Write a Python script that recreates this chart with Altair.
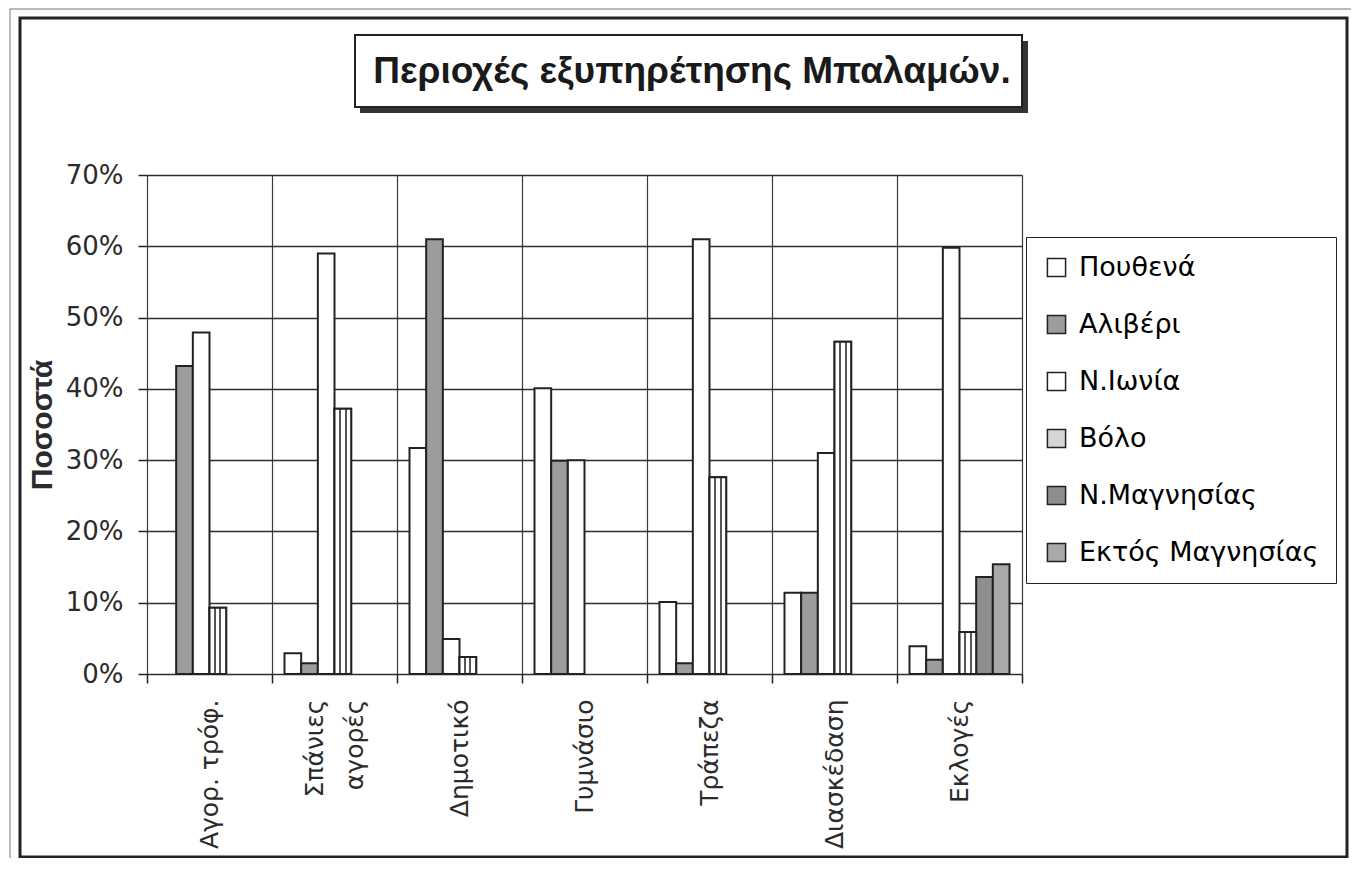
import altair as alt
import pandas as pd

# ---- data ----
categories = ["Αγορ. τρόφ.", "Σπάνιες αγορές", "Δημοτικό", "Γυμνάσιο",
              "Τράπεζα", "Διασκέδαση", "Εκλογές"]
series = ["Πουθενά", "Αλιβέρι", "Ν.Ιωνία", "Βόλο", "Ν.Μαγνησίας", "Εκτός Μαγνησίας"]
pouthena = [0.0, 2.9, 31.7, 40.1, 10.1, 11.4, 3.9]
aliveri = [43.2, 1.5, 61.0, 29.9, 1.5, 11.4, 2.0]
n_ionia = [47.9, 59.0, 4.9, 30.0, 61.0, 31.0, 59.8]
volo = [9.3, 37.2, 2.4, 0.0, 27.6, 46.6, 5.9]
n_magnisias = [0.0, 0.0, 0.0, 0.0, 0.0, 0.0, 13.6]
ektos = [0.0, 0.0, 0.0, 0.0, 0.0, 0.0, 15.4]
y_ticks = [0, 10, 20, 30, 40, 50, 60, 70]
chart_title = "Περιοχές εξυπηρέτησης Μπαλαμών."
y_title = "Ποσοστά"

# ---- styles ----
fills = ["#ffffff", "#9c9c9c", "#ffffff", "#d6d6d6", "#8e8e8e", "#a9a9a9"]
INK = "#222222"
TXT = "#2b2b2b"
LABEL_FONT = "DejaVu Sans"
TITLE_FONT = "Liberation Sans"

rows = []
for s, vals in zip(series, [pouthena, aliveri, n_ionia, volo, n_magnisias, ektos]):
    for c, v in zip(categories, vals):
        rows.append({"category": c, "series": s, "value": v})
df = pd.DataFrame(rows)

W, H = 875, 499
one = alt.Data(values=[{}])

# two-word long labels are wrapped on two lines centred on the tick
# (a blank braille cell keeps the spacer line from collapsing)
BLANK = "\u2800"
label_expr = ("length(datum.label) > 12 ? "
              "[split(datum.label, ' ')[0], '" + BLANK + "', split(datum.label, ' ')[1]] : "
              "['', datum.label]")

x_enc = alt.X("category:N", sort=categories,
              scale=alt.Scale(paddingInner=0, paddingOuter=0),
              axis=alt.Axis(title=None, labelAngle=270, tickBand="extent",
                            labelFontSize=25, labelFont=LABEL_FONT, labelColor=TXT,
                            tickSize=9, tickColor=INK, tickWidth=1.5,
                            labelPadding=16, labelLineHeight=20, labelOffset=-20,
                            labelExpr=label_expr, labelOverlap=False,
                            grid=True, gridColor="#3a3a3a", gridWidth=1.2,
                            domain=False))
xo_enc = alt.XOffset("series:N", sort=series,
                     scale=alt.Scale(domain=series, paddingOuter=0.75, paddingInner=0))
y_enc = alt.Y("value:Q",
              scale=alt.Scale(domain=[0, 70], nice=False),
              axis=alt.Axis(values=y_ticks, labelExpr="datum.value + '%'",
                            title=y_title, titleFont=TITLE_FONT, titleFontSize=30,
                            titleFontWeight="bold", titleColor=TXT, titlePadding=8,
                            labelFontSize=26, labelFont=LABEL_FONT, labelColor=TXT,
                            tickSize=9, tickColor=INK, tickWidth=1.5, labelPadding=15,
                            grid=True, gridColor="#2e2e2e", gridWidth=1.5,
                            domain=False))

base = alt.Chart(df).transform_filter("datum.value > 0").encode(
    x=x_enc, xOffset=xo_enc, y=y_enc)

bars = base.mark_bar(stroke=INK, strokeWidth=2).encode(
    fill=alt.Fill("series:N", sort=series,
                  scale=alt.Scale(domain=series, range=fills),
                  legend=alt.Legend(title=None, orient="none", legendX=879, legendY=62,
                                    strokeColor=INK, fillColor="white",
                                    padding=17, symbolType="square", symbolSize=330,
                                    symbolStrokeColor=INK, symbolStrokeWidth=1.5,
                                    labelFontSize=27, labelFont=LABEL_FONT,
                                    labelColor="black", labelOffset=9,
                                    rowPadding=29, labelLimit=400))
)

stripes_v = alt.LinearGradient(
    gradient="linear", x1=0, y1=0, x2=1, y2=0,
    stops=[alt.GradientStop(offset=0, color="#ffffff"),
           alt.GradientStop(offset=0.28, color="#ffffff"),
           alt.GradientStop(offset=0.28, color="#555555"),
           alt.GradientStop(offset=0.4, color="#555555"),
           alt.GradientStop(offset=0.4, color="#ffffff"),
           alt.GradientStop(offset=0.6, color="#ffffff"),
           alt.GradientStop(offset=0.6, color="#555555"),
           alt.GradientStop(offset=0.72, color="#555555"),
           alt.GradientStop(offset=0.72, color="#ffffff"),
           alt.GradientStop(offset=1, color="#ffffff")])
volo_bars = base.transform_filter(alt.datum.series == "Βόλο").mark_bar(
    fill=stripes_v, stroke=INK, strokeWidth=2)

# decorations: frames and title box
thin_frame = alt.Chart(one).mark_rect(fill=None, stroke="#777777", strokeWidth=1).encode(
    x=alt.value(-137), x2=alt.value(1300), y=alt.value(-166), y2=alt.value(900))
thick_frame = alt.Chart(one).mark_rect(fill=None, stroke=INK, strokeWidth=3).encode(
    x=alt.value(-127), x2=alt.value(1200), y=alt.value(-157), y2=alt.value(682))
title_shadow = alt.Chart(one).mark_rect(fill="#333333").encode(
    x=alt.value(213), x2=alt.value(881), y=alt.value(-134), y2=alt.value(-62))
title_box = alt.Chart(one).mark_rect(fill="white", stroke=INK, strokeWidth=2).encode(
    x=alt.value(208), x2=alt.value(875), y=alt.value(-140), y2=alt.value(-68))
title_text = alt.Chart(one).mark_text(
    font=TITLE_FONT, fontSize=37, fontWeight="bold", color="#1a1a1a",
    align="center", baseline="middle").encode(
    x=alt.value(545), y=alt.value(-103), text=alt.value(chart_title))

chart = alt.layer(
    thin_frame, thick_frame, title_shadow, title_box, title_text, bars, volo_bars
).properties(
    width=W, height=H,
    autosize=alt.AutoSizeParams(type="none"),
    padding={"left": 139, "top": 167, "right": 329, "bottom": 184},
).configure_view(
    stroke=INK, strokeWidth=3
).configure_legend(
    strokeWidth=2
).configure(background="white")

chart.save("out.html", embed_options={"renderer": "svg", "actions": False})
